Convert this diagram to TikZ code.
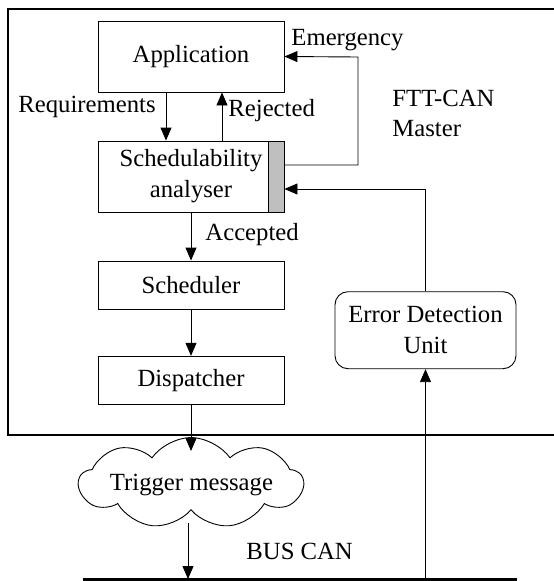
\documentclass[tikz,border=0pt]{standalone}
\usepackage{fontspec}
\setmainfont{Liberation Serif}
\usetikzlibrary{arrows.meta,shapes.symbols}
\begin{document}
\begin{tikzpicture}[x=1pt,y=-1pt,
  line width=0.9pt,
  font=\fontsize{24.7}{31}\selectfont,
  box/.style={draw,rectangle,minimum width=186pt,inner sep=0pt,align=center},
  arr/.style={-{Triangle[length=13pt,width=11pt]}},
  lbl/.style={inner sep=0pt,anchor=base west}]
\useasboundingbox (0,0) rectangle (554,581);

% master frame (open on the right)
\draw[line width=1.6pt] (560,9) -- (8,9) -- (8,435) -- (560,435);

% blocks of the master
\node[box,minimum height=71pt] (app) at (191,56.5) {Application};
\node[box,minimum height=71pt] (sched) at (191,176.5) {Schedulability\\analyser};
\node[draw,fill=black!25,minimum width=16pt,minimum height=71pt,inner sep=0pt,anchor=east] (bar) at (sched.east) {};
\node[box,minimum height=48pt] (schr) at (191,285) {Scheduler};
\node[box,minimum height=48pt] (disp) at (191,380.3) {Dispatcher};
\node[draw,rectangle,rounded corners=13pt,minimum width=181pt,minimum height=77pt,inner sep=0pt,align=center] (edu) at (425.5,330.2) {Error Detection\\Unit};

% trigger message cloud
\node[cloud,draw,cloud puffs=9,cloud puff arc=110,aspect=2.6,minimum width=224pt,minimum height=91pt,inner sep=0pt] (cloud) at (191,483) {};
\node[inner sep=0pt,anchor=base] (trig) at (191.5,490) {Trigger message};

% bus
\coordinate (busL) at (83,579);
\coordinate (busR) at (517,579);
\draw[line width=3pt] (busL) -- (busR);

% helper coordinates
\coordinate (reqx) at (166,0);
\coordinate (rejx) at (222,0);
\coordinate (emB) at (358,57);
\coordinate (cloudtop) at (191,451);
\coordinate (cloudbot) at (188,523);

% connectors
\draw[arr] (app.south -| reqx) -- (sched.north -| reqx);
\draw[arr] (sched.north -| rejx) -- (app.south -| rejx);
\draw[arr] ([yshift=11.5pt]bar.east) -| (emB) -- (app.east);
\draw[arr] (edu.north) |- ([yshift=-12.5pt]bar.east);
\draw[arr] (sched.south) -- (schr.north);
\draw[arr] (schr.south) -- (disp.north);
\draw[arr] (disp.south) -- (cloudtop);
\draw[arr] (cloudbot) -- (cloudbot |- busL);
\draw[arr] (edu.south |- busL) -- (edu.south);

% labels
\node[lbl] (lemg) at (291,45) {Emergency};
\node[lbl] (lreq) at (18,112.7) {Requirements};
\node[lbl] (lrej) at (228,116.7) {Rejected};
\node[lbl] (lftt) at (392,106) {FTT-CAN};
\node[lbl] (lmst) at (392,136.7) {Master};
\node[lbl] (lacc) at (205,240) {Accepted};
\node[lbl] (lbus) at (246,559.3) {BUS CAN};
\end{tikzpicture}
\end{document}
